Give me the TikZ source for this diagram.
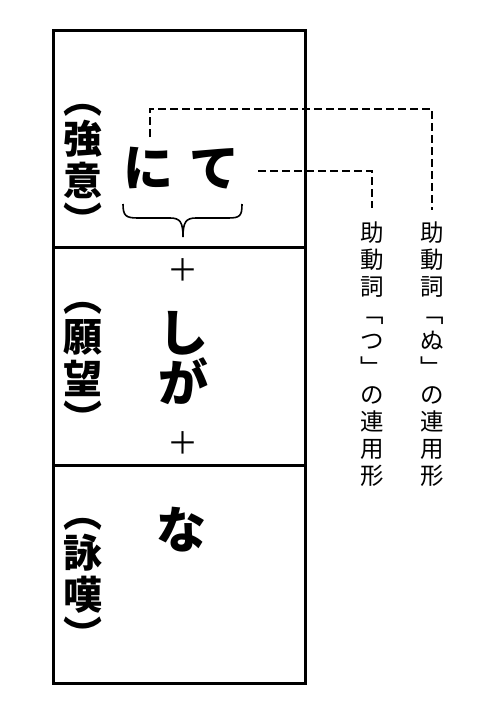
\documentclass[tikz,border=0pt]{standalone}
\usepackage{fontspec}
\newfontfamily\jp{Noto Sans CJK JP}
\usetikzlibrary{calc}
\begin{document}
\begin{tikzpicture}[x=1pt,y=-1pt,
  frame/.style={line width=3pt},
  dashline/.style={line width=2.4pt, dash pattern=on 8pt off 4pt},
  big/.style={font=\jp\bfseries\fontsize{50}{50}\selectfont, inner sep=0pt, align=center},
  side/.style={font=\jp\bfseries\fontsize{39}{42}\selectfont, inner sep=0pt, align=center},
  note/.style={font=\jp\fontsize{23.5}{27}\selectfont, inner sep=0pt, align=center},
  plus/.style={font=\jp\fontsize{31}{31}\selectfont, inner sep=0pt},
  bracestyle/.style={line width=1.6pt}]
\useasboundingbox (0,0) rectangle (492,720);
\draw[frame] (53.5,30) rectangle (305,683);
\draw[frame] (53.5,247) -- (305,247);
\draw[frame] (53.5,465) -- (305,465);
\node[big] (nite) at (181,168) {に\hspace{16pt}て};
\node[side] (kyoui) at (83,170) {︵\\[-2pt]強\\意\\[-2pt]︶};
\node[side] (ganbou) at (83,368) {︵\\[-2pt]願\\望\\[-2pt]︶};
\node[side] (eitan) at (83,584) {︵\\[-2pt]詠\\嘆\\[-2pt]︶};
\node[big] (shiga) at (183,358) {し\\が};
\node[big] (na) at (181,530) {な};
\node[plus] (p1) at (183,270) {＋};
\node[plus] (p2) at (183,443) {＋};
\node[note, anchor=north] (nu) at (432,222) {助\\動\\詞\\﹁\\ぬ\\﹂\\の\\連\\用\\形};
\node[note, anchor=north] (tsu) at (372,222) {助\\動\\詞\\﹁\\つ\\﹂\\の\\連\\用\\形};
\coordinate (c1) at (150,137);
\coordinate (c2) at (258,171);
\draw[dashline] (c1) -- ++(0,-28) -| ([yshift=12pt]nu.north);
\draw[dashline] (c2) -| ([yshift=14pt]tsu.north);
\draw[bracestyle] (123,204) .. controls (123,216) and (126,218) .. (138,218) -- (170,218) .. controls (180,218) and (183,222) .. (183,237) .. controls (183,222) and (186,218) .. (196,218) -- (228,218) .. controls (240,218) and (242,216) .. (242,204);
\end{tikzpicture}
\end{document}
